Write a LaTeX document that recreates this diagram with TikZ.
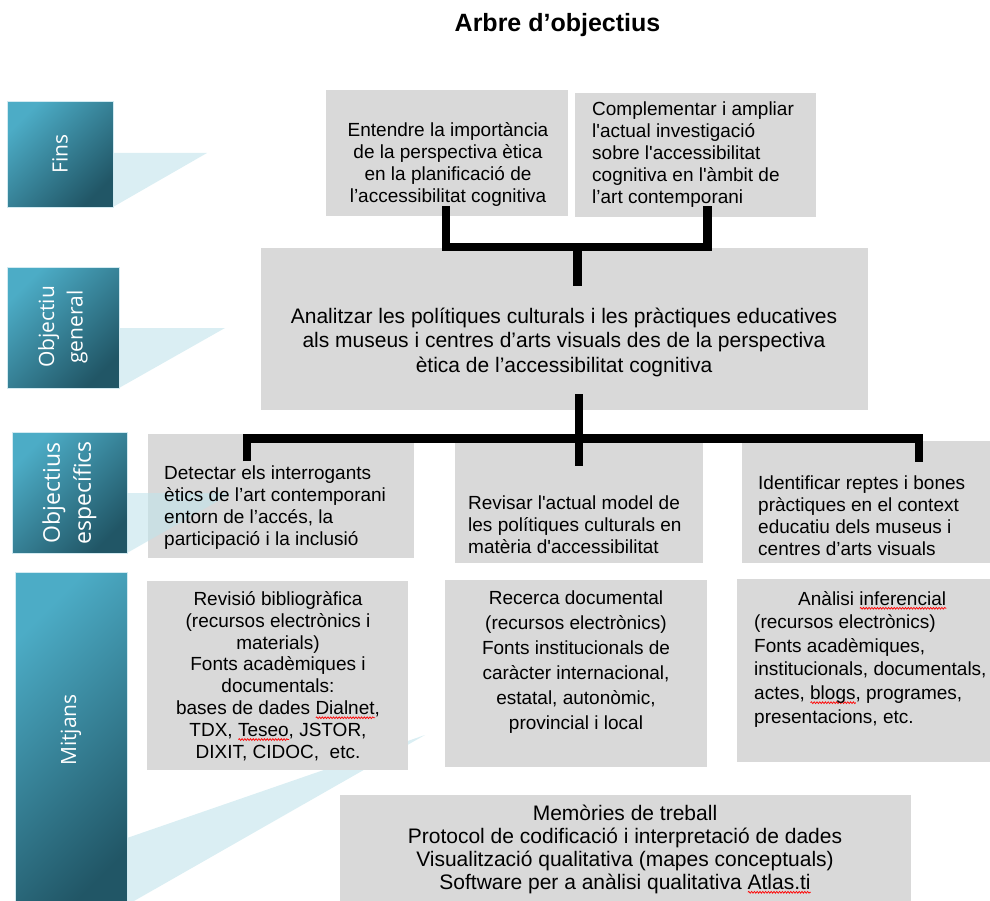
\documentclass[tikz,border=0pt]{standalone}
\usepackage{fontspec}
\usetikzlibrary{decorations.pathmorphing}
\setmainfont{Liberation Sans}
\newfontfamily\labfont{Open Sans}
\newsavebox\spellbox
\newcommand\spell[1]{\sbox\spellbox{#1}\rlap{\smash{\raisebox{-4.5pt}{\tikz\draw[red, line width=0.7pt, decorate, decoration={snake, amplitude=0.9pt, segment length=2.8pt}] (0pt,0pt) -- (\wd\spellbox,0pt);}}}\usebox\spellbox}
\definecolor{boxgrey}{HTML}{D9D9D9}
\definecolor{tealL}{RGB}{76,172,198}
\definecolor{tealD}{RGB}{33,86,102}
\definecolor{trisolid}{HTML}{DAEEF3}
\definecolor{trisemi}{RGB}{193,227,235}
\begin{document}
\begin{tikzpicture}[x=1pt,y=-1pt,
  gbox/.style={fill=boxgrey, draw=none, inner sep=0pt, anchor=north west},
  tbox/.style={draw=white!75!tealL, line width=0.8pt, top color=tealL, bottom color=tealD, shading angle=45, inner sep=0pt, anchor=north west},
  lab/.style={text=white, rotate=90, align=center, inner sep=0pt},
  txt/.style={inner sep=0pt, font=\fontsize{19}{22}\selectfont},
  conn/.style={draw=black, line width=8.5pt, line join=miter, line cap=butt}]
\useasboundingbox (0,0) rectangle (990,901);
\clip (0,0) rectangle (990,901);
% title
\node[font=\bfseries\fontsize{25}{30}\selectfont, inner sep=0pt] (title) at (557.5,25.5) {Arbre d’objectius};
% light callout triangles (behind)
\fill[trisolid] (113,153) -- (207,153) -- (113,207) -- cycle;
\fill[trisolid] (119,328) -- (225,328) -- (119,388) -- cycle;
\fill[trisolid] (127,838) -- (425,735) -- (127,905) -- cycle;
% teal level boxes
\node[tbox, minimum width=106pt, minimum height=106pt] (lfins) at (7,101) {};
\node[tbox, minimum width=112pt, minimum height=121pt] (lgen) at (7,267) {};
\node[tbox, minimum width=115pt, minimum height=121pt] (lesp) at (12,432) {};
\node[tbox, minimum width=112pt, minimum height=345pt] (lmit) at (15,572) {};
\node[lab, font=\labfont\fontsize{21}{28.5}\selectfont] (tfins) at (60,154) {Fins};
\node[lab, font=\labfont\fontsize{21}{28.5}\selectfont] (tgen) at (63,327) {Objectiu\\general};
\node[lab, font=\labfont\fontsize{23}{31}\selectfont] (tesp) at (69.5,493) {Objectius\\específics};
\node[lab, font=\labfont\fontsize{21}{28.5}\selectfont] (tmit) at (71,730) {Mitjans};
% grey boxes
\node[gbox, minimum width=242pt, minimum height=126pt] (e1) at (326,90) {};
\node[gbox, minimum width=241pt, minimum height=124pt] (e2) at (575,93) {};
\node[gbox, minimum width=607pt, minimum height=162pt] (gen) at (261,248) {};
\node[gbox, minimum width=266pt, minimum height=124pt] (d1) at (148,434) {};
\node[gbox, minimum width=248pt, minimum height=120pt] (d2) at (455,443) {};
\node[gbox, minimum width=260pt, minimum height=122pt] (d3) at (742,441) {};
\node[gbox, minimum width=261pt, minimum height=189pt] (m1) at (147,581) {};
\node[gbox, minimum width=262pt, minimum height=187pt] (m2) at (445,580) {};
\node[gbox, minimum width=260pt, minimum height=183pt] (m3) at (737,579) {};
\node[gbox, minimum width=571pt, minimum height=120pt] (m4) at (340,795) {};
% semi-transparent callout over the first specific objective
\fill[trisemi, fill opacity=0.6] (127,493) -- (232,493) -- (127,553) -- cycle;
% texts
\node[txt, align=center] (te1) at (448,164) {Entendre la importància\\de la perspectiva ètica\\en la planificació de\\l’accessibilitat cognitiva};
\node[txt, align=left, anchor=west] (te2) at (592,155) {Complementar i ampliar\\l\textquotesingle actual investigació\\sobre l\textquotesingle accessibilitat\\cognitiva en l\textquotesingle àmbit de\\l’art contemporani};
\node[txt, align=center, font=\fontsize{21}{24.5}\selectfont] (tgenx) at (564,342) {Analitzar les polítiques culturals i les pràctiques educatives\\als museus i centres d’arts visuals des de la perspectiva\\ètica de l’accessibilitat cognitiva};
\node[txt, align=left, anchor=west] (td1) at (164,508) {Detectar els interrogants\\ètics de l’art contemporani\\entorn de l’accés, la\\participació i la inclusió};
\node[txt, align=left, anchor=west] (td2) at (468,525) {Revisar l\textquotesingle actual model de\\les polítiques culturals en\\matèria d\textquotesingle accessibilitat};
\node[txt, align=left, anchor=west] (td3) at (758,516) {Identificar reptes i bones\\pràctiques en el context\\educatiu dels museus i\\centres d’arts visuals};
\node[txt, align=center, font=\fontsize{19}{21.8}\selectfont] (tm1) at (278,676) {Revisió bibliogràfica\\(recursos electrònics i\\materials)\\Fonts acadèmiques i\\documentals:\\bases de dades \spell{Dialnet},\\TDX, \spell{Teseo}, JSTOR,\\DIXIT, CIDOC,~ etc.};
\node[txt, align=center, font=\fontsize{19}{25}\selectfont] (tm2) at (576,662) {Recerca documental\\(recursos electrònics)\\Fonts institucionals de\\caràcter internacional,\\estatal, autonòmic,\\provincial i local};
\node[txt, align=left, anchor=west, font=\fontsize{19}{23.6}\selectfont] (tm3) at (754,659) {\hspace*{44pt}Anàlisi \spell{inferencial}\\(recursos electrònics)\\Fonts acadèmiques,\\institucionals, documentals,\\actes, \spell{blogs}, programes,\\presentacions, etc.};
\node[txt, align=center, font=\fontsize{21}{23}\selectfont] (tm4) at (625,849) {Memòries de treball\\Protocol de codificació i interpretació de dades\\Visualització qualitativa (mapes conceptuals)\\Software per a anàlisi qualitativa \spell{Atlas.ti}};
% connectors
\coordinate (a1) at (446,206);
\coordinate (a2) at (707.5,206);
\coordinate (a3) at (577.5,247);
\coordinate (a4) at (577.5,286);
\draw[conn] (a1) |- (a3) -| (a2);
\draw[conn] (a3) -- (a4);
\coordinate (b0) at (579,394);
\coordinate (b1) at (579,466);
\coordinate (bl) at (247,461);
\coordinate (bm) at (919,438.5);
\coordinate (br) at (919,462);
\draw[conn] (b0) -- (b1);
\draw[conn] (bl) |- (bm) -- (br);
\end{tikzpicture}
\end{document}
